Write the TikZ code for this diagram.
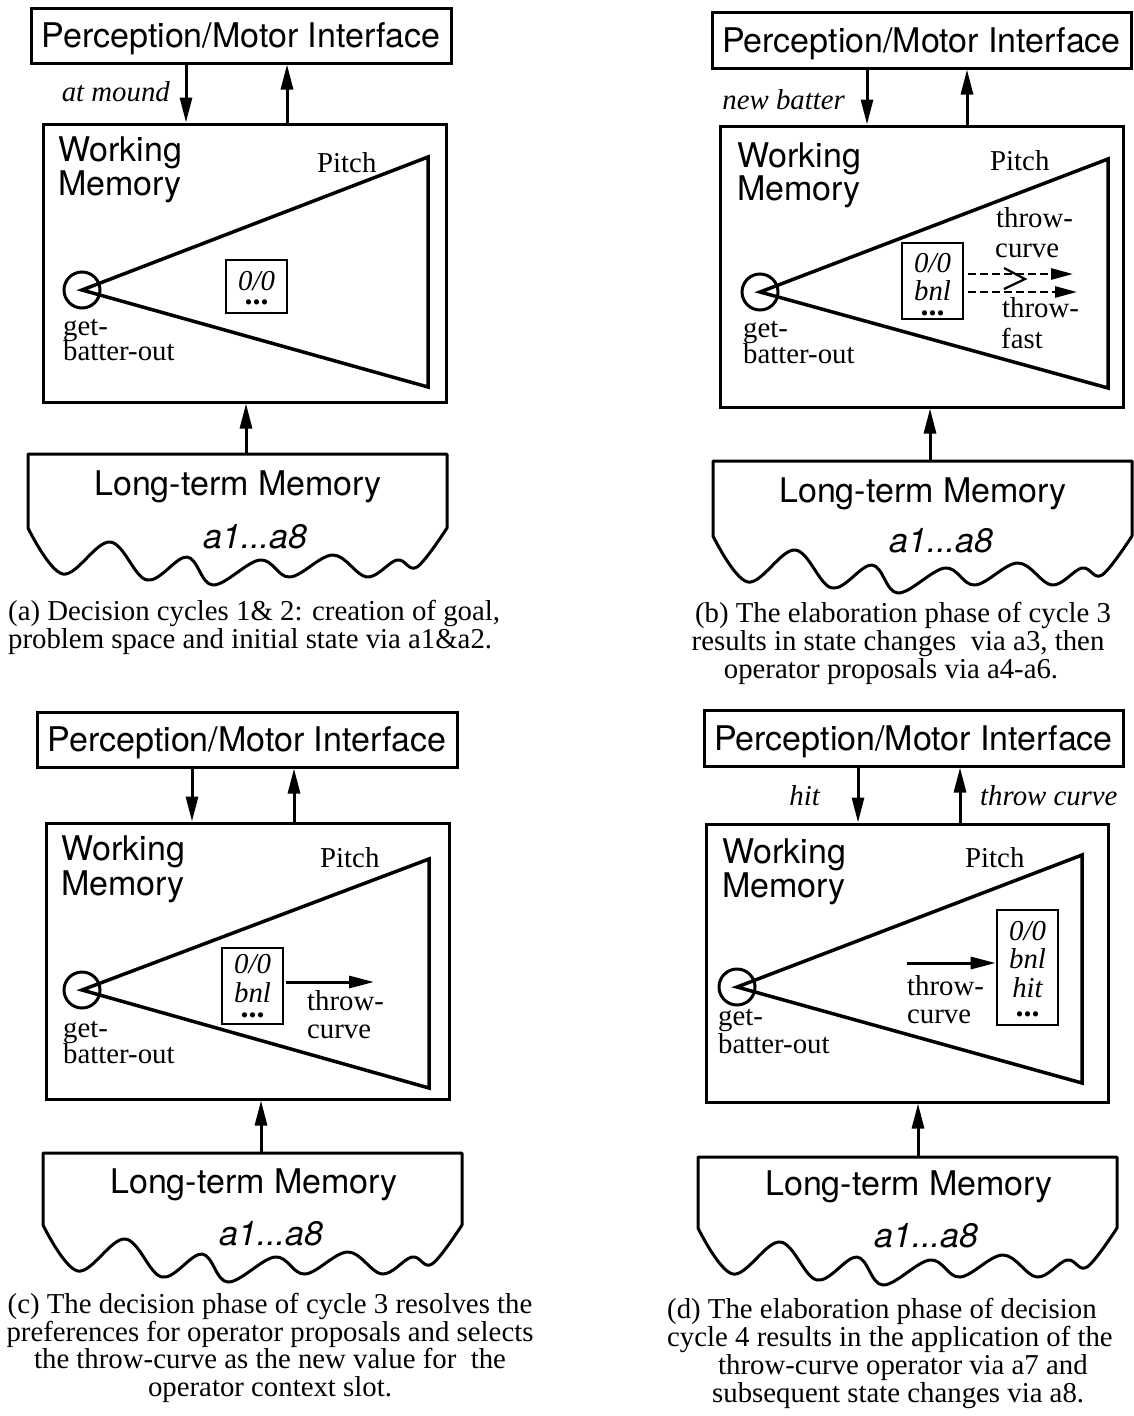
\documentclass[tikz,border=0pt]{standalone}
\usepackage{fontspec}
\setmainfont{Liberation Serif}
\setsansfont{TeX Gyre Heros}
\usetikzlibrary{arrows.meta}
\tikzset{
  box/.style={draw, line width=3pt, inner sep=0pt, rectangle},
  pmibox/.style={box, minimum width=420pt, minimum height=55pt, font=\sffamily\fontsize{34}{35}\selectfont, text height=24.4pt, text depth=0pt},
  sanslbl/.style={inner sep=0pt, font=\sffamily\fontsize{34}{35}\selectfont},
  sansit/.style={inner sep=0pt, font=\sffamily\itshape\fontsize{34}{35}\selectfont},
  serlbl/.style={inner sep=0pt, font=\fontsize{28.8}{30}\selectfont},
  serit/.style={inner sep=0pt, font=\itshape\fontsize{28.8}{30}\selectfont},
  slottxt/.style={serit, text height=13pt, text depth=2pt},
  arr/.style={line width=3pt, -{Triangle[length=25pt,width=12pt]}},
  tri/.style={line width=3.5pt, line join=miter},
  goal/.style={draw, circle, line width=3pt, minimum size=36pt, inner sep=0pt},
  slot/.style={box, line width=2.6pt},
  dotsl/.style={inner sep=0pt, font=\bfseries\fontsize{32}{32}\selectfont, text height=4pt, text depth=0pt},
  ltmline/.style={line width=3pt, line join=round},
  dasharr/.style={line width=2.6pt, dash pattern=on 8pt off 4pt, -{Triangle[length=22pt,width=11pt]}},
  chev/.style={line width=2.2pt},
}
\newcommand{\ltmoutline}[3]{%
  \draw[ltmline, shift={(#1,#3)}] plot[smooth, tension=0.6] coordinates {(0,0) (35,46) (82,14) (119,52) (159,29) (185,57) (232,32) (262,49) (305,27) (339,49) (369,32) (389,39) (419,0)} -- (419,{#2-#3}) -- (0,{#2-#3}) -- cycle;}
\begin{document}
\begin{tikzpicture}[x=1pt,y=-1pt]
\fill[white] (0,0) rectangle (1133,1416);
\useasboundingbox (0,0) rectangle (1133,1416);

% ================= panel (a)
\node[pmibox] (pmiA) at (241,35.5) {Perception/Motor Interface};
\node[box, minimum width=403pt, minimum height=278pt] (wmA) at (244.5,263) {};
\coordinate (aDn) at (186,0); \coordinate (aUp) at (287,0); \coordinate (aLt) at (246,0);
\draw[arr] (pmiA.south -| aDn) -- (wmA.north -| aDn);
\draw[arr] (wmA.north -| aUp) -- (pmiA.south -| aUp);
\node[serit, anchor=base east] (inA) at (170,101) {at mound};
\node[sanslbl, anchor=base west] (wm1A) at (58,161.7) {Working};
\node[sanslbl, anchor=base west] (wm2A) at (58,195) {Memory};
\node[serlbl, anchor=base west] (pitchA) at (317,172) {Pitch};
\draw[tri] (82,290) -- (428,157) -- (428,387) -- cycle;
\node[goal] (goalA) at (82,290) {};
\node[serlbl, anchor=base west] (g1A) at (63,335) {get-};
\node[serlbl, anchor=base west] (g2A) at (63,360) {batter-out};
\node[slot, minimum width=61pt, minimum height=53pt] (stA) at (256.5,286.5) {};
\node[slottxt, anchor=base] (s1A) at (256.5,290) {0/0};
\node[dotsl, anchor=base] (s2A) at (256.5,304) {...};
\node[inner sep=0pt, minimum width=419pt, minimum height=74pt, anchor=north west] (ltmA) at (28,454) {};
\ltmoutline{28}{454}{528}
\node[sanslbl, anchor=base] (ltm1A) at (238,495) {Long-term Memory};
\node[sansit, anchor=base] (ltm2A) at (255,548) {a1...a8};
\draw[arr] (ltmA.north -| aLt) -- (wmA.south -| aLt);
\node[serlbl, anchor=base west] (capA1) at (8,620) {(a) Decision cycles 1\& 2: creation of goal,};
\node[serlbl, anchor=base west] (capA2) at (8,648) {problem space and initial state via a1\&a2.};

% ================= panel (b)
\node[pmibox, minimum width=419pt, minimum height=56pt] (pmiB) at (921.5,40) {Perception/Motor Interface};
\node[box, minimum width=403pt, minimum height=281pt] (wmB) at (921.5,266.5) {};
\coordinate (bDn) at (867,0); \coordinate (bUp) at (967,0); \coordinate (bLt) at (930,0);
\draw[arr] (pmiB.south -| bDn) -- (wmB.north -| bDn);
\draw[arr] (wmB.north -| bUp) -- (pmiB.south -| bUp);
\node[serit, anchor=base east] (inB) at (845,109) {new batter};
\node[sanslbl, anchor=base west] (wm1B) at (737,167) {Working};
\node[sanslbl, anchor=base west] (wm2B) at (737,200) {Memory};
\node[serlbl, anchor=base west] (pitchB) at (990,170) {Pitch};
\draw[tri] (760,292) -- (1108,159) -- (1108,388) -- cycle;
\node[goal] (goalB) at (760,292) {};
\node[serlbl, anchor=base west] (g1B) at (743,337) {get-};
\node[serlbl, anchor=base west] (g2B) at (743,363) {batter-out};
\node[slot, minimum width=61pt, minimum height=76pt] (stB) at (932.5,281) {};
\node[slottxt, anchor=base] (s1B) at (932.5,272) {0/0};
\node[slottxt, anchor=base] (s2B) at (932.5,300) {bnl};
\node[dotsl, anchor=base] (s3B) at (932.5,315) {...};
\coordinate (bDa1) at (968,274); \coordinate (bDa2) at (1073,274);
\coordinate (bDb1) at (968,292); \coordinate (bDb2) at (1077,292);
\draw[dasharr] (bDa1) -- (bDa2);
\draw[dasharr] (bDb1) -- (bDb2);
\draw[chev] (1004,268) -- (1025,279) -- (1004,289);
\node[serlbl, anchor=base west] (o1B) at (996,227) {throw-};
\node[serlbl, anchor=base west] (o2B) at (995,257) {curve};
\node[serlbl, anchor=base west] (o3B) at (1002,317) {throw-};
\node[serlbl, anchor=base west] (o4B) at (1001,348) {fast};
\node[inner sep=0pt, minimum width=419pt, minimum height=75pt, anchor=north west] (ltmB) at (713,461) {};
\ltmoutline{713}{461}{536}
\node[sanslbl, anchor=base] (ltm1B) at (923,502) {Long-term Memory};
\node[sansit, anchor=base] (ltm2B) at (941,552) {a1...a8};
\draw[arr] (ltmB.north -| bLt) -- (wmB.south -| bLt);
\node[serlbl, anchor=base] (capB1) at (903,622) {(b) The elaboration phase of cycle 3};
\node[serlbl, anchor=base] (capB2) at (898,650) {results in state changes\ \ via a3, then};
\node[serlbl, anchor=base] (capB3) at (891,678) {operator proposals via a4-a6.};

% ================= panel (c)
\node[pmibox] (pmiC) at (247,739.5) {Perception/Motor Interface};
\node[box, minimum width=403pt, minimum height=276pt] (wmC) at (247.5,961) {};
\coordinate (cDn) at (192,0); \coordinate (cUp) at (294,0); \coordinate (cLt) at (261,0);
\draw[arr] (pmiC.south -| cDn) -- (wmC.north -| cDn);
\draw[arr] (wmC.north -| cUp) -- (pmiC.south -| cUp);
\node[sanslbl, anchor=base west] (wm1C) at (61,860) {Working};
\node[sanslbl, anchor=base west] (wm2C) at (61,895) {Memory};
\node[serlbl, anchor=base west] (pitchC) at (320,867) {Pitch};
\draw[tri] (82,990) -- (429,859) -- (429,1088) -- cycle;
\node[goal] (goalC) at (82,990) {};
\node[serlbl, anchor=base west] (g1C) at (63,1037) {get-};
\node[serlbl, anchor=base west] (g2C) at (63,1063) {batter-out};
\node[slot, minimum width=61pt, minimum height=76pt] (stC) at (252.5,986) {};
\node[slottxt, anchor=base] (s1C) at (252.5,973) {0/0};
\node[slottxt, anchor=base] (s2C) at (252.5,1002) {bnl};
\node[dotsl, anchor=base] (s3C) at (252.5,1017) {...};
\coordinate (cA1) at (286,982); \coordinate (cA2) at (374,982);
\draw[arr] (cA1) -- (cA2);
\node[serlbl, anchor=base west] (o1C) at (307,1010) {throw-};
\node[serlbl, anchor=base west] (o2C) at (307,1038) {curve};
\node[inner sep=0pt, minimum width=419pt, minimum height=72pt, anchor=north west] (ltmC) at (43,1153) {};
\ltmoutline{43}{1153}{1225}
\node[sanslbl, anchor=base] (ltm1C) at (254,1193) {Long-term Memory};
\node[sansit, anchor=base] (ltm2C) at (271,1245) {a1...a8};
\draw[arr] (ltmC.north -| cLt) -- (wmC.south -| cLt);
\node[serlbl, anchor=base] (capC1) at (270,1313) {(c) The decision phase of cycle 3 resolves the};
\node[serlbl, anchor=base] (capC2) at (270,1341) {preferences for operator proposals and selects};
\node[serlbl, anchor=base] (capC3) at (270,1368) {the throw-curve as the new value for\ \ the};
\node[serlbl, anchor=base] (capC4) at (270,1396) {operator context slot.};

% ================= panel (d)
\node[pmibox, minimum width=419pt, minimum height=56pt] (pmiD) at (913.5,738) {Perception/Motor Interface};
\node[box, minimum width=402pt, minimum height=278pt] (wmD) at (907,963) {};
\coordinate (dDn) at (858,0); \coordinate (dUp) at (960,0); \coordinate (dLt) at (918,0);
\draw[arr] (pmiD.south -| dDn) -- (wmD.north -| dDn);
\draw[arr] (wmD.north -| dUp) -- (pmiD.south -| dUp);
\node[serit, anchor=base east] (inD) at (820,805) {hit};
\node[serit, anchor=base west] (outD) at (980,805) {throw curve};
\node[sanslbl, anchor=base west] (wm1D) at (722,863) {Working};
\node[sanslbl, anchor=base west] (wm2D) at (722,897) {Memory};
\node[serlbl, anchor=base west] (pitchD) at (965,867) {Pitch};
\draw[tri] (737,987) -- (1082,855) -- (1082,1083) -- cycle;
\node[goal] (goalD) at (737,987) {};
\node[serlbl, anchor=base west] (g1D) at (718,1025) {get-};
\node[serlbl, anchor=base west] (g2D) at (718,1053) {batter-out};
\node[slot, minimum width=61pt, minimum height=115pt] (stD) at (1027.5,967.5) {};
\node[slottxt, anchor=base] (s1D) at (1027.5,940) {0/0};
\node[slottxt, anchor=base] (s2D) at (1027.5,968) {bnl};
\node[slottxt, anchor=base] (s3D) at (1027.5,997) {hit};
\node[dotsl, anchor=base] (s4D) at (1027.5,1016) {...};
\coordinate (dA1) at (907,963);
\draw[arr] (dA1) -- (stD.west |- dA1);
\node[serlbl, anchor=base west] (o1D) at (907,995) {throw-};
\node[serlbl, anchor=base west] (o2D) at (907,1023) {curve};
\node[inner sep=0pt, minimum width=419pt, minimum height=71pt, anchor=north west] (ltmD) at (698,1157) {};
\ltmoutline{698}{1157}{1228}
\node[sanslbl, anchor=base] (ltm1D) at (909,1195) {Long-term Memory};
\node[sansit, anchor=base] (ltm2D) at (926,1247) {a1...a8};
\draw[arr] (ltmD.north -| dLt) -- (wmD.south -| dLt);
\node[serlbl, anchor=base west] (capD1) at (667,1318) {(d) The elaboration phase of decision};
\node[serlbl, anchor=base west] (capD2) at (667,1346) {cycle 4 results in the application of the};
\node[serlbl, anchor=base west] (capD3) at (718,1374) {throw-curve operator via a7 and};
\node[serlbl, anchor=base west] (capD4) at (712,1402) {subsequent state changes via a8.};
\end{tikzpicture}
\end{document}
